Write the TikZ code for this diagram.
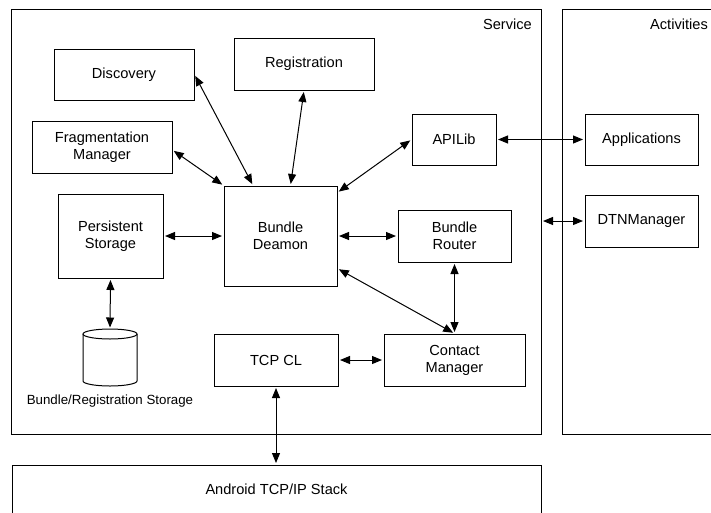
\documentclass[tikz,border=0pt]{standalone}
\usepackage{fontspec}
\setmainfont{Liberation Sans}
\usetikzlibrary{arrows.meta,calc}
\begin{document}
\begin{tikzpicture}[x=1pt,y=-1pt,
  box/.style={draw,line width=1pt,inner sep=0pt,align=center,font=\fontsize{14.6}{17}\selectfont},
  frame/.style={draw,line width=1pt,inner sep=0pt},
  lbl/.style={inner sep=0pt,font=\fontsize{14.6}{17}\selectfont},
  conn/.style={line width=1pt,{Triangle[length=10pt,width=8pt]}-{Triangle[length=10pt,width=8pt]},shorten <=1.5pt,shorten >=1.5pt}]
\useasboundingbox (0,0) rectangle (711,512);
\clip (0,0) rectangle (711,512);
% frames
\node[frame,minimum width=530pt,minimum height=425pt] (service) at (276,221.5) {};
\node[frame,minimum width=200pt,minimum height=425pt] (activities) at (662,221.5) {};
\node[frame,minimum width=529pt,minimum height=100pt] (android) at (276.5,515) {};
\node[lbl,anchor=east] (servicelbl) at (532,24) {Service};
\node[lbl,anchor=west] (activitieslbl) at (650,24) {Activities};
\node[lbl] (androidlbl) at (276.5,489) {Android TCP/IP Stack};
% boxes
\node[box,minimum width=140pt,minimum height=51pt] (disc) at (124,74.5) {Discovery};
\node[box,minimum width=140pt,minimum height=52pt] (reg) at (304,64) {Registration};
\node[box,minimum width=140pt,minimum height=52pt] (frag) at (102,147) {Fragmentation\\Manager};
\node[box,minimum width=105pt,minimum height=84pt] (ps) at (110.5,236) {Persistent\\Storage};
\node[box,minimum width=113pt,minimum height=100pt] (bd) at (280.5,236) {Bundle\\Deamon};
\node[box,minimum width=84pt,minimum height=51pt] (api) at (454,139.5) {APILib};
\node[box,minimum width=113pt,minimum height=52pt] (router) at (454.5,236) {Bundle\\Router};
\node[box,minimum width=113pt,minimum height=51pt] (app) at (641.5,139.5) {Applications};
\node[box,minimum width=113pt,minimum height=52pt] (dtn) at (641.5,221) {DTNManager};
\node[box,minimum width=124pt,minimum height=52pt] (tcp) at (276,360) {TCP CL};
\node[box,minimum width=141pt,minimum height=52pt] (cm) at (454.5,360) {Contact\\Manager};
% cylinder
\coordinate (cyl) at (110,329);
\draw[line width=1pt] (110,334) ellipse[x radius=27,y radius=5];
\draw[line width=1pt] (83,334) -- (83,381) arc[start angle=180,end angle=0,x radius=27,y radius=5] -- (137,334);
\node[lbl,font=\fontsize{13.3}{16}\selectfont] (cyllbl) at (110,401) {Bundle/Registration Storage};
% connectors
\draw[conn] (disc.east) -- ([xshift=-27.5pt]bd.north);
\draw[conn] (reg.south) -- ([xshift=10pt]bd.north);
\draw[conn] ([yshift=-3pt]frag.east) -- (bd.north west);
\draw[conn] (ps.east) -- (bd.west);
\draw[conn] ([yshift=-7pt]bd.north east) -- (api.west);
\draw[conn] (bd.east) -- (router.west);
\draw[conn] ([yshift=18pt]bd.south east) -- (cm.north);
\draw[conn] (router.south) -- (cm.north);
\draw[conn] (api.east) -- (app.west);
\draw[conn] (service.east |- dtn.west) -- (dtn.west);
\draw[conn] (ps.south) -- (cyl);
\draw[conn] (tcp.east) -- (cm.west);
\draw[conn] (tcp.south) -- (tcp.south |- android.north);
\end{tikzpicture}
\end{document}
